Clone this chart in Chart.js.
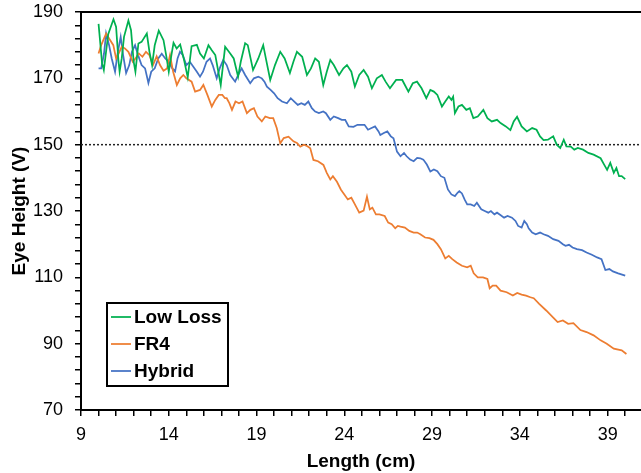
<!DOCTYPE html>
<html>
<head>
<meta charset="utf-8">
<script src="https://cdn.jsdelivr.net/npm/chart.js@4/dist/chart.umd.min.js"></script>
<style>
  html, body { margin: 0; padding: 0; background: #fff; }
  #wrap { width: 641px; height: 473px; }
</style>
</head>
<body>
<div id="wrap"><canvas id="eyeChart" width="641" height="473"></canvas></div>
<script>
// ========================
// DATA
// ========================
const seriesLabels = ["Low Loss", "FR4", "Hybrid"];
const seriesColors = ["#00B050", "#ED7D31", "#4472C4"];

const lowLossX = [10.0, 10.2, 10.3, 10.55, 10.85, 11.0, 11.13, 11.2, 11.32, 11.45, 11.7, 11.85, 12.0, 12.1, 12.27, 12.45, 12.75, 12.9, 13.05, 13.2, 13.43, 13.7, 13.85, 14.0, 14.15, 14.27, 14.45, 14.65, 14.85, 15.08, 15.3, 15.6, 15.78, 16.0, 16.26, 16.45, 16.65, 16.96, 17.21, 17.5, 17.7, 17.95, 18.1, 18.35, 18.5, 18.8, 19.1, 19.38, 19.55, 19.78, 20.05, 20.35, 20.6, 20.9, 21.1, 21.3, 21.6, 21.87, 22.1, 22.34, 22.55, 22.8, 23.0, 23.2, 23.4, 23.7, 23.95, 24.15, 24.4, 24.6, 24.85, 25.1, 25.35, 25.57, 25.85, 26.14, 26.35, 26.6, 26.95, 27.3, 27.45, 27.65, 27.9, 28.14, 28.4, 28.67, 28.9, 29.1, 29.3, 29.56, 29.75, 29.95, 30.1, 30.2, 30.3, 30.5, 30.7, 30.95, 31.15, 31.35, 31.6, 31.92, 32.15, 32.4, 32.7, 32.9, 33.2, 33.46, 33.65, 33.84, 34.1, 34.4, 34.7, 34.95, 35.15, 35.35, 35.6, 35.9, 36.1, 36.3, 36.5, 36.65, 36.9, 37.1, 37.3, 37.6, 37.9, 38.2, 38.6, 38.8, 38.97, 39.15, 39.35, 39.5, 39.65, 39.8, 40.0];
const lowLossY = [186.4, 174.5, 172.5, 183.3, 187.8, 185.5, 175.5, 172, 176, 182.5, 187.4, 184.5, 175, 172, 180.5, 181, 183.5, 178, 174, 180, 184.4, 181.5, 177, 172, 177, 180.7, 179, 180.2, 176, 170.3, 179.7, 180.1, 177.5, 176, 180, 178.5, 177, 168, 179.5, 177.5, 176, 170.5, 175, 180.6, 180, 172.5, 176, 180, 175.5, 169.5, 174, 178, 176, 171.6, 175, 178, 176.5, 171, 173, 176, 175, 168, 172, 175.5, 174, 171, 173, 174, 172, 167.5, 171, 172.5, 170.5, 167, 170, 171, 169, 167, 169.5, 169.5, 168, 166, 168.5, 169, 167, 164, 166.5, 166, 165, 161.5, 163, 164.5, 163.5, 164.5, 159.5, 161.5, 162, 160.5, 161, 158, 158.5, 160.5, 158, 157, 157.5, 156.5, 155.5, 154.4, 157, 158.4, 155.5, 154, 155, 154.5, 152.5, 151.4, 151.5, 152.5, 150, 149, 151.5, 149.5, 149.4, 148.5, 149, 148.5, 147.5, 147, 145.9, 144, 142.4, 144.5, 141.5, 143, 140.5, 140.5, 139.6];

const fr4X = [10.0, 10.15, 10.43, 10.6, 10.84, 11.0, 11.15, 11.32, 11.5, 11.7, 11.95, 12.1, 12.3, 12.5, 12.7, 12.9, 13.1, 13.31, 13.5, 13.7, 13.9, 14.07, 14.25, 14.46, 14.65, 14.83, 15.0, 15.3, 15.5, 15.78, 15.97, 16.2, 16.45, 16.65, 16.85, 17.05, 17.2, 17.3, 17.45, 17.6, 17.8, 18.0, 18.2, 18.45, 18.65, 18.85, 19.05, 19.3, 19.5, 19.75, 19.95, 20.15, 20.35, 20.55, 20.82, 21.1, 21.3, 21.49, 21.7, 21.9, 22.06, 22.24, 22.5, 22.81, 23.0, 23.2, 23.35, 23.58, 23.8, 24.0, 24.2, 24.4, 24.55, 24.7, 24.85, 25.1, 25.29, 25.45, 25.6, 25.8, 26.0, 26.3, 26.5, 26.7, 26.9, 27.05, 27.2, 27.45, 27.7, 27.95, 28.15, 28.33, 28.6, 28.85, 29.08, 29.3, 29.5, 29.75, 29.95, 30.15, 30.4, 30.7, 31.0, 31.2, 31.37, 31.6, 31.9, 32.15, 32.28, 32.45, 32.65, 32.9, 33.25, 33.6, 33.85, 34.1, 34.35, 34.6, 34.79, 35.1, 35.5, 35.93, 36.15, 36.45, 36.75, 37.05, 37.45, 37.8, 38.2, 38.6, 38.95, 39.35, 39.8, 40.07];
const fr4Y = [177.5, 180, 183.5, 182, 180, 176, 177.5, 179.5, 179, 178, 175, 176, 177.5, 176.5, 178, 177, 174, 176.6, 174, 172.3, 173, 177, 172, 168, 170, 171, 170, 169, 166, 166.5, 168, 165, 161.5, 163.5, 165, 165, 164, 164, 162.5, 160.5, 163, 162.5, 163, 159.5, 160.5, 161, 158.5, 157, 158.5, 158, 158, 155, 150.4, 152, 152.4, 151, 150.5, 149.4, 150, 149.5, 148.9, 145.4, 145, 143.9, 141.5, 139.5, 140.5, 138.8, 136.5, 135, 133.5, 134, 132.5, 131, 129.5, 130.1, 134.3, 130.5, 131, 129, 129, 128.5, 126.5, 126, 124.8, 125.5, 125.3, 125, 124, 123.5, 123.5, 123, 122, 121.8, 121.3, 120, 118.5, 115.7, 116.5, 115.5, 114.5, 113.5, 113, 113.5, 111.2, 110, 110, 109.5, 106.7, 107.5, 107.5, 106, 105.5, 104.5, 105.3, 104.8, 104.5, 104, 103.7, 102, 100, 97.7, 96.5, 97, 96, 96.2, 94.1, 93.5, 92.5, 91, 90, 88.5, 88, 86.9];

const hybridX = [10.0, 10.15, 10.31, 10.43, 10.6, 10.75, 10.94, 11.1, 11.26, 11.4, 11.57, 11.75, 11.9, 12.08, 12.25, 12.45, 12.65, 12.84, 13.0, 13.2, 13.4, 13.6, 13.8, 14.0, 14.2, 14.36, 14.5, 14.64, 14.8, 15.0, 15.2, 15.4, 15.6, 15.78, 15.95, 16.15, 16.35, 16.5, 16.73, 16.9, 17.1, 17.3, 17.5, 17.78, 17.95, 18.15, 18.35, 18.64, 18.85, 19.1, 19.3, 19.45, 19.59, 19.8, 20.0, 20.2, 20.45, 20.73, 20.95, 21.15, 21.35, 21.55, 21.75, 21.95, 22.15, 22.34, 22.55, 22.8, 22.95, 23.2, 23.4, 23.65, 23.85, 24.05, 24.25, 24.52, 24.75, 24.95, 25.15, 25.35, 25.55, 25.75, 25.95, 26.05, 26.25, 26.45, 26.65, 26.8, 26.9, 27.0, 27.2, 27.4, 27.55, 27.75, 27.95, 28.15, 28.33, 28.5, 28.7, 28.9, 29.1, 29.3, 29.5, 29.7, 29.9, 30.1, 30.3, 30.45, 30.55, 30.7, 30.85, 31.0, 31.2, 31.4, 31.55, 31.8, 32.0, 32.2, 32.35, 32.55, 32.7, 32.89, 33.1, 33.3, 33.55, 33.75, 33.9, 34.1, 34.25, 34.4, 34.5, 34.7, 34.9, 35.15, 35.35, 35.6, 35.9, 36.2, 36.45, 36.6, 36.8, 37.0, 37.25, 37.54, 37.8, 38.1, 38.4, 38.65, 38.87, 39.1, 39.3, 39.6, 40.0];
const hybridY = [173, 173, 177.4, 183.5, 180, 176, 172, 178, 182.5, 177, 171.6, 174, 178, 180, 177, 174, 173, 168.6, 172, 173, 176, 177.4, 176, 175, 173, 172.1, 176, 178, 177, 174, 175, 173.5, 172, 170.5, 172, 175, 176, 174, 170, 173, 175.5, 174, 171, 169, 171, 173, 171, 168.5, 170, 170.5, 170, 169, 167.5, 166.5, 165.5, 164, 163, 162.5, 164, 163, 162, 162.5, 162, 163, 161, 160, 159.5, 160, 159.5, 157.5, 158.5, 158, 157.5, 157.5, 155.5, 155.4, 156, 156, 156, 154.5, 155, 155.5, 154, 152.9, 153.5, 154, 152.5, 151.9, 150, 147.9, 146.5, 147.5, 146.5, 145.5, 145, 146, 145.9, 145.5, 144, 141.9, 142.5, 142, 140.5, 140, 136.5, 135, 134.5, 135.5, 136, 135.3, 133.5, 132, 132, 131.5, 132.5, 130.5, 130, 129.5, 130, 129, 129.5, 128.8, 128, 128.5, 128, 127, 125.5, 125, 127, 126, 124.8, 123.5, 123, 123.5, 123, 122.5, 121.5, 121, 120, 119.5, 119.8, 119, 118.5, 118.2, 117.5, 116.8, 116, 115.5, 112.2, 112.5, 111.8, 111.2, 110.5];

const thresholdV = 150;
const xMajorTicks = [9, 14, 19, 24, 29, 34, 39];
const yMajorTicks = [70, 90, 110, 130, 150, 170, 190];

// ========================
// HELPERS
// ========================
function toPoints(xs, ys) {
  return xs.map((x, i) => ({ x, y: ys[i] }));
}

const FONT = "'Liberation Sans', Arial, sans-serif";

// legend drawn inside the plot, boxed like the original
const boxLegend = {
  id: "boxLegend",
  afterDraw(chart) {
    const ctx = chart.ctx;
    const a = chart.chartArea;
    const x0 = a.left + 26;
    const y0 = a.bottom - 107;
    const w = 121, h = 83;
    ctx.save();
    ctx.fillStyle = "#fff";
    ctx.fillRect(x0, y0, w, h);
    ctx.strokeStyle = "#000";
    ctx.lineWidth = 2;
    ctx.strokeRect(x0, y0, w, h);
    ctx.font = "bold 19px " + FONT;
    ctx.textBaseline = "middle";
    seriesLabels.forEach((lab, i) => {
      const cy = y0 + 14 + i * 27;
      ctx.strokeStyle = seriesColors[i];
      ctx.lineWidth = 1.75;
      ctx.beginPath();
      ctx.moveTo(x0 + 4, cy);
      ctx.lineTo(x0 + 24, cy);
      ctx.stroke();
      ctx.fillStyle = "#000";
      ctx.fillText(lab, x0 + 27, cy + 1);
    });
    ctx.restore();
  }
};

// top frame line
const topFrame = {
  id: "topFrame",
  afterDraw(chart) {
    const ctx = chart.ctx;
    const a = chart.chartArea;
    ctx.save();
    ctx.strokeStyle = "#000";
    ctx.lineWidth = 2;
    ctx.beginPath();
    ctx.moveTo(a.left, a.top);
    ctx.lineTo(a.right, a.top);
    ctx.stroke();
    ctx.restore();
  }
};

// ========================
// CHART
// ========================
const allSeries = [
  toPoints(lowLossX, lowLossY),
  toPoints(fr4X, fr4Y),
  toPoints(hybridX, hybridY)
];

const datasets = allSeries.map((pts, i) => ({
  label: seriesLabels[i],
  data: pts,
  borderColor: seriesColors[i],
  borderWidth: 1.75,
  pointRadius: 0,
  tension: 0,
  fill: false
}));

datasets.push({
  label: "threshold",
  data: [{ x: 9, y: thresholdV }, { x: 40.9, y: thresholdV }],
  borderColor: "#222",
  borderWidth: 1.5,
  borderDash: [2, 2],
  pointRadius: 0,
  fill: false
});

new Chart(document.getElementById("eyeChart"), {
  type: "line",
  data: { datasets },
  plugins: [topFrame, boxLegend],
  options: {
    responsive: false,
    animation: false,
    layout: { padding: { top: 12, left: 0, right: 0, bottom: 0 } },
    plugins: {
      legend: { display: false },
      tooltip: { enabled: false }
    },
    scales: {
      x: {
        type: "linear",
        min: 9,
        max: 40.9,
        afterFit(scale) {
          scale.height = 63;
          scale.paddingLeft = 0;
          scale.paddingRight = 0;
        },
        afterBuildTicks(scale) {
          const t = [];
          for (let v = 9; v <= 40; v++) t.push({ value: v });
          scale.ticks = t;
        },
        ticks: {
          autoSkip: false,
          maxRotation: 0,
          padding: 8,
          color: "#000",
          font: { family: FONT, size: 18 },
          callback: v => (xMajorTicks.includes(v) ? String(v) : "")
        },
        grid: {
          drawOnChartArea: false,
          drawTicks: true,
          tickLength: 6,
          color: "#000",
          lineWidth: 1.5
        },
        border: { color: "#000", width: 2 },
        title: {
          display: true,
          text: "Length (cm)",
          color: "#000",
          font: { family: FONT, size: 19, weight: "bold" },
          padding: { top: 2, bottom: 0 }
        }
      },
      y: {
        type: "linear",
        min: 70,
        max: 190,
        afterFit(scale) {
          scale.width = 81;
          scale.paddingTop = 0;
          scale.paddingBottom = 0;
        },
        afterBuildTicks(scale) {
          const t = [];
          for (let v = 70; v <= 190; v += 4) t.push({ value: v });
          scale.ticks = t;
        },
        ticks: {
          autoSkip: false,
          padding: 12,
          color: "#000",
          font: { family: FONT, size: 18 },
          callback: v => (yMajorTicks.includes(v) ? String(v) : "")
        },
        grid: {
          drawOnChartArea: false,
          drawTicks: true,
          tickLength: 6,
          color: "#000",
          lineWidth: 1.5
        },
        border: { color: "#000", width: 2 },
        title: {
          display: true,
          text: "Eye Height (V)",
          color: "#000",
          font: { family: FONT, size: 19, weight: "bold" },
          padding: { top: 8, bottom: 0 }
        }
      }
    }
  }
});
</script>
</body>
</html>
